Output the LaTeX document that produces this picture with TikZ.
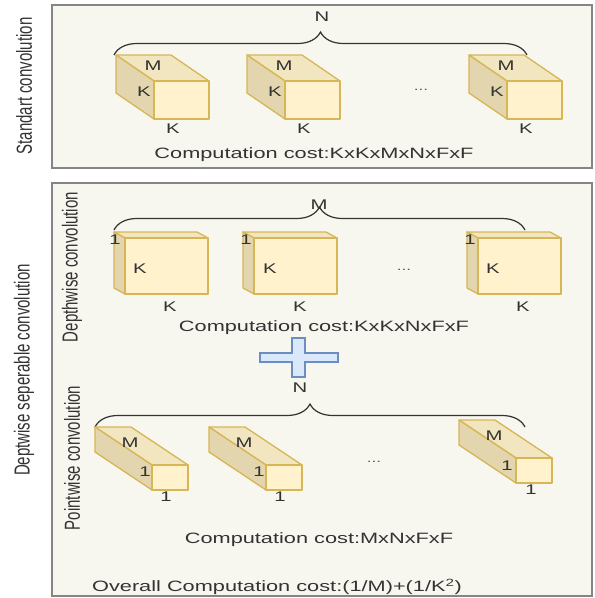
\documentclass[tikz,border=0pt]{standalone}
\usepackage{fontspec}
\setmainfont{Liberation Sans}[FakeStretch=1.45]
\newfontfamily\rotfont{Liberation Sans}
\usetikzlibrary{decorations.pathreplacing}

\definecolor{panelfill}{HTML}{F8F7EF}
\definecolor{panelline}{HTML}{858585}
\definecolor{cubefront}{HTML}{FFF2CC}
\definecolor{cubetop}{HTML}{F2E6C0}
\definecolor{cubeside}{HTML}{E3D5AE}
\definecolor{cubeline}{HTML}{D6B656}
\definecolor{plusfill}{HTML}{DAE8FC}
\definecolor{plusline}{HTML}{6C8EBF}
\definecolor{ink}{HTML}{333333}

% front-face top-left x, y, width, height, depth dx, dy
\newcommand{\drawcube}[6]{%
  \filldraw[cubeface,fill=cubetop] (#1,#2) -- (#1+#3,#2) -- ++(#5,#6) -- ++(-#3,0) -- cycle;
  \filldraw[cubeface,fill=cubeside] (#1,#2) -- ++(#5,#6) -- ++(0,#4) -- (#1,#2+#4) -- cycle;
  \filldraw[cubeface,fill=cubefront] (#1,#2) rectangle ++(#3,#4);
}

\begin{document}
\begin{tikzpicture}[x=1pt,y=-1pt,
  panel/.style={draw=panelline,fill=panelfill,line width=2pt},
  cubeface/.style={draw=cubeline,line width=1.3pt,line join=round},
  bracestyle/.style={draw=ink,line width=1.2pt,decorate,decoration={brace,amplitude=23pt}},
  lbl/.style={font=\fontsize{14}{16}\selectfont,text=ink,inner sep=0pt},
  cost/.style={font=\fontsize{15}{18}\selectfont,text=ink,inner sep=0pt},
  side/.style={font=\rotfont\fontsize{15}{18}\selectfont,text=ink,rotate=90,inner sep=0pt},
  dots/.style={font=\fontsize{12}{14}\selectfont,text=ink!80,inner sep=0pt}]
\useasboundingbox[fill=white] (0,0) rectangle (595,598);

% panels
\draw[panel] (52,5) rectangle (592,168);
\draw[panel] (52,183) rectangle (592,596);

% side titles
\node[side] (tstd) at (24,86) {\scalebox{1}[1.45]{Standart convolution}};
\node[side] (tdsc) at (24,370) {\scalebox{1}[1.45]{Deptwise seperable convolution}};
\node[side] (tdw) at (72,267) {\scalebox{1}[1.45]{Depthwise convolution}};
\node[side] (tpw) at (72,458) {\scalebox{1}[1.45]{Pointwise convolution}};

% ---------- standard convolution ----------
\draw[bracestyle] (114,55) -- (527,55);
\node[lbl] (n1) at (322,17) {N};
\drawcube{154}{81}{55}{38}{-38}{-26}
\drawcube{285}{81}{55}{38}{-38}{-26}
\drawcube{507}{81}{55}{38}{-38}{-26}
\node[lbl] (a1m) at (153,66) {M};
\node[lbl] (a1k) at (144,92) {K};
\node[lbl] (a1b) at (173,129) {K};
\node[lbl] (a2m) at (284,66) {M};
\node[lbl] (a2k) at (275,92) {K};
\node[lbl] (a2b) at (304,129) {K};
\node[lbl] (a3m) at (506,66) {M};
\node[lbl] (a3k) at (497,92) {K};
\node[lbl] (a3b) at (526,129) {K};
\node[dots] (adots) at (421,90) {...};
\node[cost] (c1) at (314,155) {Computation cost:KxKxMxNxFxF};

% ---------- depthwise convolution ----------
\draw[bracestyle] (114,230) -- (525,230);
\node[lbl] (m2) at (319,205) {M};
\drawcube{125}{238}{83}{56}{-11}{-6}
\drawcube{254}{238}{83}{56}{-11}{-6}
\drawcube{478}{238}{83}{56}{-11}{-6}
\node[lbl] (b1o) at (115,240) {1};
\node[lbl] (b1k) at (140,269) {K};
\node[lbl] (b1b) at (170,307) {K};
\node[lbl] (b2o) at (246,240) {1};
\node[lbl] (b2k) at (270,269) {K};
\node[lbl] (b2b) at (300,307) {K};
\node[lbl] (b3o) at (470,240) {1};
\node[lbl] (b3k) at (493,269) {K};
\node[lbl] (b3b) at (523,307) {K};
\node[dots] (bdots) at (404,270) {...};
\node[cost] (c2) at (324,328) {Computation cost:KxKxNxFxF};

% plus sign
\filldraw[draw=plusline,fill=plusfill,line width=1.2pt,line join=miter]
  (292,338) -- (305,338) -- (305,353) -- (338,353) -- (338,362) -- (305,362)
  -- (305,377) -- (292,377) -- (292,362) -- (260,362) -- (260,353) -- (292,353) -- cycle;

% ---------- pointwise convolution ----------
\draw[bracestyle] (95,427) -- (525,427);
\node[lbl] (n3) at (300,388) {N};
\drawcube{152}{465}{36}{25}{-57}{-38}
\drawcube{266}{465}{36}{25}{-57}{-38}
\drawcube{516}{458}{36}{25}{-57}{-38}
\node[lbl] (p1m) at (130,443) {M};
\node[lbl] (p1o) at (145,472) {1};
\node[lbl] (p1b) at (166,497) {1};
\node[lbl] (p2m) at (244,443) {M};
\node[lbl] (p2o) at (259,472) {1};
\node[lbl] (p2b) at (280,497) {1};
\node[lbl] (p3m) at (494,436) {M};
\node[lbl] (p3o) at (507,466) {1};
\node[lbl] (p3b) at (531,490) {1};
\node[dots] (pdots) at (374,462) {...};
\node[cost] (c3) at (319,540) {Computation cost:MxNxFxF};

\node[cost] (ov) at (277,587) {Overall Computation cost:(1/M)+(1/K\textsuperscript{2})};
\end{tikzpicture}
\end{document}
